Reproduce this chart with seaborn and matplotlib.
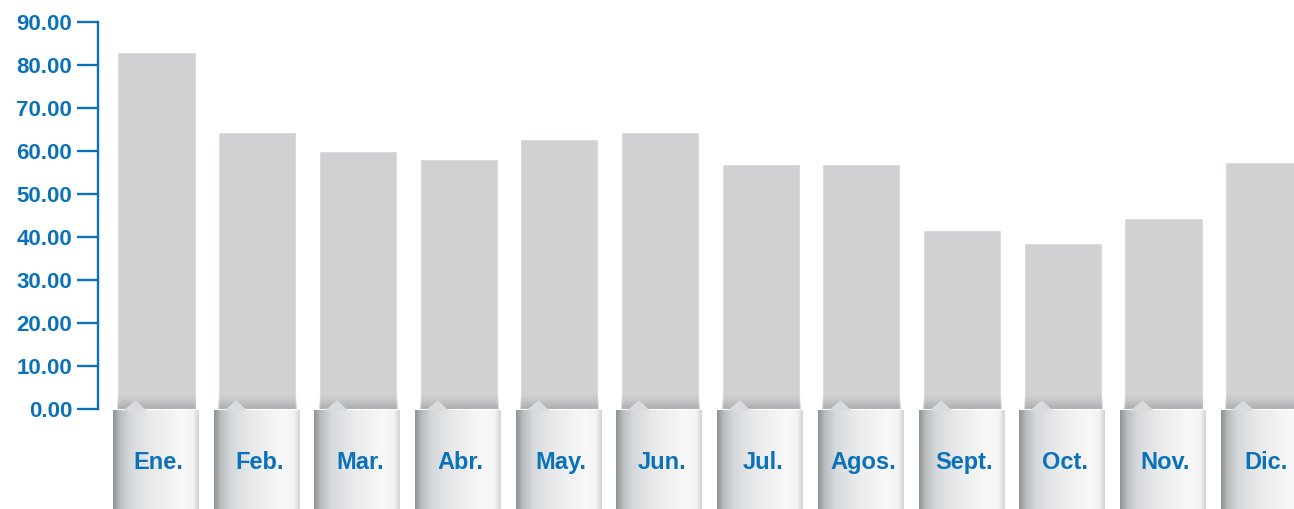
import numpy as np
import pandas as pd
import matplotlib
matplotlib.use("Agg")
import matplotlib.pyplot as plt
import seaborn as sns
from matplotlib.colors import LinearSegmentedColormap
from matplotlib.patches import Polygon

# データ
months = ["Ene.", "Feb.", "Mar.", "Abr.", "May.", "Jun.",
          "Jul.", "Agos.", "Sept.", "Oct.", "Nov.", "Dic."]
values = [83.0, 64.4, 60.0, 58.1, 62.8, 64.4,
          57.0, 57.0, 41.6, 38.6, 44.4, 57.4]
y_ticks = [0, 10, 20, 30, 40, 50, 60, 70, 80, 90]

BLUE = "#0b72b9"
BAR = "#d0d1d3"

sns.set_theme(style="white")
plt.rcParams["font.family"] = ["Liberation Sans", "DejaVu Sans"]

df = pd.DataFrame({"month": months, "value": values})

fig = plt.figure(figsize=(12.94, 5.09), dpi=100)
ax = fig.add_axes([98 / 1294, 100 / 509, 1196 / 1294, 387 / 509])

bw = 0.775
sns.barplot(data=df, x="month", y="value", color=BAR, saturation=1,
            width=bw, ax=ax, zorder=2)

# タブ (下のラベル部分) のグラデーション
tab_cmap = LinearSegmentedColormap.from_list(
    "tab", [(0.0, "#8e9295"), (0.08, "#b9bdc0"), (0.2, "#d6d9dc"),
            (0.45, "#e9eaeb"), (0.8, "#f8f8f8"), (0.93, "#f4f4f4"),
            (1.0, "#d2d3d4")])
grad = np.linspace(0, 1, 256).reshape(1, -1)

# バー下部の影
shade = np.zeros((64, 1, 4))
shade[:, 0, 3] = np.linspace(0.0, 0.35, 64) ** 1.5

y_bottom = -23.5
for i in range(len(months)):
    left = i - bw / 2
    ax.imshow(shade, extent=[left, left + bw, -0.3, 3.5], origin="upper",
              aspect="auto", zorder=3, interpolation="bilinear")
    ax.imshow(grad, cmap=tab_cmap, extent=[left - 0.045, left + bw + 0.025, y_bottom, -0.3],
              aspect="auto", zorder=4, clip_on=False, interpolation="bilinear")
    notch = Polygon([(left + 0.06, -0.35), (left + 0.18, 2.0), (left + 0.29, -0.35)],
                    closed=True, facecolor="#d9dcde", edgecolor="none",
                    zorder=5, clip_on=False)
    ax.add_patch(notch)
    ax.text(i + 0.02, -13.95, months[i], ha="center", va="baseline",
            color=BLUE, fontsize=17, fontweight="bold", zorder=6, clip_on=False)

ax.set_xlim(-0.581, 11.296)
ax.set_ylim(0, 90)
ax.set_yticks(y_ticks)
ax.set_yticklabels([f"{v:.2f}" for v in y_ticks], color=BLUE,
                   fontsize=16, fontweight="bold")
ax.set_xticks([])
ax.set_xlabel("")
ax.set_ylabel("")
ax.tick_params(axis="y", direction="out", length=15, width=1.7,
               color=BLUE, pad=3.5, left=True)

for s in ["top", "right", "bottom"]:
    ax.spines[s].set_visible(False)
ax.spines["left"].set_color(BLUE)
ax.spines["left"].set_linewidth(1.7)
ax.set_facecolor("white")
ax.grid(False)

fig.savefig("out.png", dpi=100)
